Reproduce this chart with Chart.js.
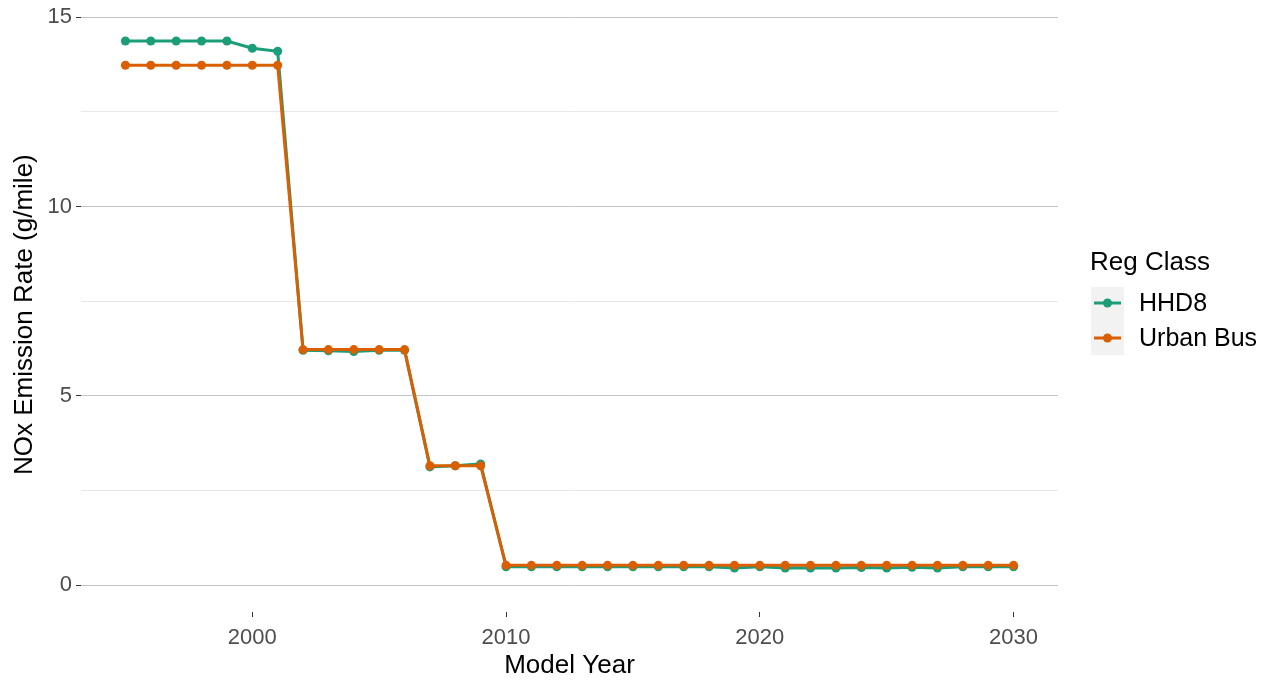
<!DOCTYPE html>
<html>
<head>
<meta charset="utf-8">
<script src="https://cdn.jsdelivr.net/npm/chart.js@4"></script>
<style>
  body { margin: 0; background: #fff; }
  #wrap { width: 1270px; height: 681px; }
</style>
</head>
<body>
<div id="wrap"><canvas id="chart"></canvas></div>
<script>
const years = [1995, 1996, 1997, 1998, 1999, 2000, 2001, 2002, 2003, 2004, 2005, 2006,
  2007, 2008, 2009, 2010, 2011, 2012, 2013, 2014, 2015, 2016, 2017, 2018, 2019, 2020,
  2021, 2022, 2023, 2024, 2025, 2026, 2027, 2028, 2029, 2030];
const hhd8 = [14.37, 14.37, 14.37, 14.37, 14.37, 14.18, 14.1, 6.2, 6.19, 6.17, 6.2, 6.2,
  3.12, 3.15, 3.2, 0.48, 0.48, 0.48, 0.48, 0.48, 0.48, 0.48, 0.48, 0.48, 0.45, 0.48,
  0.45, 0.45, 0.45, 0.46, 0.45, 0.47, 0.45, 0.48, 0.48, 0.48];
const urbanBus = [13.73, 13.73, 13.73, 13.73, 13.73, 13.73, 13.73, 6.22, 6.22, 6.22, 6.22, 6.22,
  3.15, 3.15, 3.15, 0.52, 0.52, 0.52, 0.52, 0.52, 0.52, 0.52, 0.52, 0.52, 0.52, 0.52,
  0.52, 0.52, 0.52, 0.52, 0.52, 0.52, 0.52, 0.52, 0.52, 0.52];
const seriesNames = ["HHD8", "Urban Bus"];
const seriesColors = ["#1b9e77", "#d95f02"];
const xTicks = [2000, 2010, 2020, 2030];
const yTicks = [0, 2.5, 5, 7.5, 10, 12.5, 15];

const FONT = "Arial, 'Liberation Sans', sans-serif";
const toPoints = vals => vals.map((v, i) => ({ x: years[i], y: v }));

// ggplot-style legend drawn on the right
const sideLegend = {
  id: "sideLegend",
  afterDraw(chart) {
    const ctx = chart.ctx;
    ctx.save();
    ctx.fillStyle = "#000";
    ctx.font = "26px " + FONT;
    ctx.textBaseline = "middle";
    ctx.fillText("Reg Class", 1090, 263);
    ctx.fillStyle = "#f2f2f2";
    ctx.fillRect(1091, 287, 33, 68);
    const items = chart.data.datasets.slice().sort((a, b) => seriesNames.indexOf(a.label) - seriesNames.indexOf(b.label));
    items.forEach((ds, i) => {
      const y = 303 + i * 35;
      ctx.strokeStyle = ds.borderColor;
      ctx.lineWidth = 3;
      ctx.beginPath();
      ctx.moveTo(1094, y);
      ctx.lineTo(1121, y);
      ctx.stroke();
      ctx.fillStyle = ds.borderColor;
      ctx.beginPath();
      ctx.arc(1107.5, y, 4.5, 0, Math.PI * 2);
      ctx.fill();
      ctx.fillStyle = "#000";
      ctx.font = "25px " + FONT;
      ctx.fillText(ds.label, 1139, y + 1);
    });
    ctx.restore();
  }
};

new Chart(document.getElementById("chart"), {
  type: "line",
  data: {
    datasets: [
      { label: seriesNames[0], data: toPoints(hhd8), borderColor: seriesColors[0], backgroundColor: seriesColors[0], order: 2 },
      { label: seriesNames[1], data: toPoints(urbanBus), borderColor: seriesColors[1], backgroundColor: seriesColors[1], order: 1 }
    ]
  },
  options: {
    responsive: true,
    maintainAspectRatio: false,
    animation: false,
    layout: { padding: { top: 14, right: 212, left: 0, bottom: 0 } },
    elements: {
      line: { borderWidth: 3, tension: 0 },
      point: { radius: 4.5, borderWidth: 0, hoverRadius: 4.5 }
    },
    plugins: {
      legend: { display: false },
      tooltip: { enabled: false }
    },
    scales: {
      x: {
        type: "linear",
        min: 1993.25,
        max: 2031.75,
        afterBuildTicks: s => { s.ticks = xTicks.map(v => ({ value: v })); },
        afterFit: s => { s.height = 69; },
        grid: { drawOnChartArea: false, drawTicks: true, tickLength: 5, tickColor: "#333", color: "#333" },
        border: { display: false },
        ticks: {
          color: "#4d4d4d",
          font: { size: 22, family: FONT },
          padding: 8,
          maxRotation: 0,
          callback: v => String(v)
        },
        title: {
          display: true,
          text: "Model Year",
          color: "#000",
          font: { size: 26, family: FONT },
          padding: { top: 0, bottom: 0 }
        }
      },
      y: {
        min: -0.713,
        max: 15.0,
        afterBuildTicks: s => { s.ticks = yTicks.map(v => ({ value: v })); },
        afterFit: s => { s.width = 81; },
        grid: {
          color: c => (c.tick && c.tick.value % 5 === 0) ? "#c4c4c4" : "#e8e8e8",
          lineWidth: 1,
          tickLength: 5,
          tickColor: c => (c.tick && c.tick.value % 5 === 0) ? "#333" : "rgba(0,0,0,0)"
        },
        border: { display: false },
        ticks: {
          color: "#4d4d4d",
          font: { size: 22, family: FONT },
          padding: 4,
          callback: v => (v % 5 === 0 ? String(v) : "")
        },
        title: {
          display: true,
          text: "NOx Emission Rate (g/mile)",
          color: "#000",
          font: { size: 26, family: FONT },
          padding: { top: 9, bottom: 4 }
        }
      }
    }
  },
  plugins: [sideLegend]
});
</script>
</body>
</html>
